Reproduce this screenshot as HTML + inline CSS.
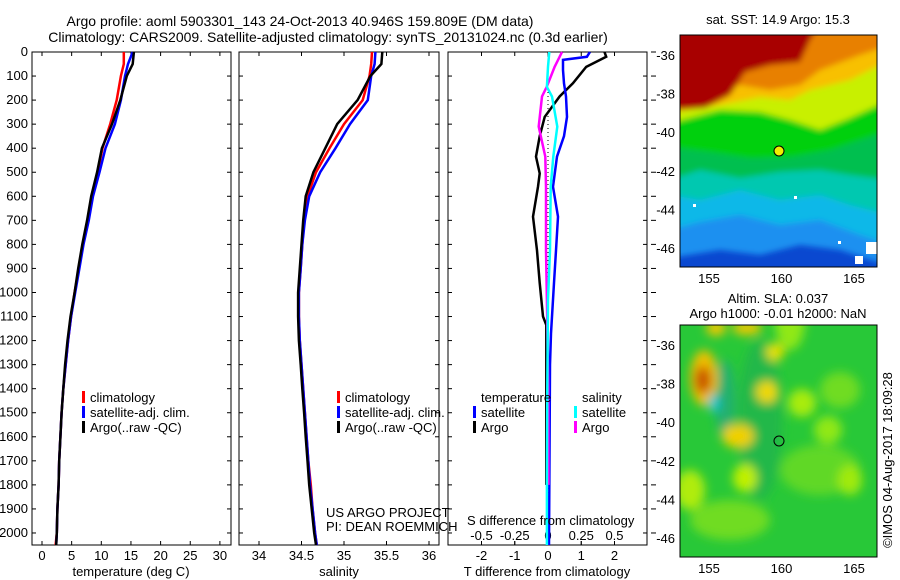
<!DOCTYPE html>
<html><head><meta charset="utf-8"><style>
body{margin:0;background:#fff;}
svg{display:block;font-family:"Liberation Sans",sans-serif;font-size:13px;}
</style></head><body>
<svg id="fig" width="900" height="580" viewBox="0 0 900 580" xmlns="http://www.w3.org/2000/svg">
<defs>
<filter id="bl" x="-10%" y="-10%" width="120%" height="120%"><feGaussianBlur stdDeviation="3"/></filter>
<filter id="bl2" x="-50%" y="-50%" width="200%" height="200%"><feGaussianBlur stdDeviation="5"/></filter>
<clipPath id="c1"><rect x="680" y="35" width="197" height="232"/></clipPath>
<clipPath id="c2"><rect x="680" y="325" width="197" height="232"/></clipPath>
</defs>
<g text-anchor="middle" font-size="14">
<text x="300" y="26">Argo profile: aoml 5903301_143 24-Oct-2013 40.946S 159.809E (DM data)</text>
<text x="328" y="42">Climatology: CARS2009. Satellite-adjusted climatology: synTS_20131024.nc (0.3d earlier)</text>
</g>
<g id="axes"></g>
<g id="series"></g>
<g>
<rect x="82" y="391" width="3" height="12" fill="#f00"/><text x="90" y="402">climatology</text>
<rect x="82" y="406" width="3" height="12" fill="#00f"/><text x="90" y="417">satellite-adj. clim.</text>
<rect x="82" y="421" width="3" height="12" fill="#000"/><text x="90" y="432">Argo(..raw -QC)</text>
</g>
<g>
<rect x="337" y="391" width="3" height="12" fill="#f00"/><text x="345" y="402">climatology</text>
<rect x="337" y="406" width="3" height="12" fill="#00f"/><text x="345" y="417">satellite-adj. clim.</text>
<rect x="337" y="421" width="3" height="12" fill="#000"/><text x="345" y="432">Argo(..raw -QC)</text>
</g>
<g>
<text x="481" y="402">temperature</text>
<text x="582" y="402">salinity</text>
<rect x="473" y="406" width="3" height="12" fill="#00f"/><text x="481" y="417">satellite</text>
<rect x="473" y="421" width="3" height="12" fill="#000"/><text x="481" y="432">Argo</text>
<rect x="574" y="406" width="3" height="12" fill="#0ff"/><text x="582" y="417">satellite</text>
<rect x="574" y="421" width="3" height="12" fill="#f0f"/><text x="582" y="432">Argo</text>
</g>
<text x="326" y="517">US ARGO PROJECT</text>
<text x="326" y="531">PI: DEAN ROEMMICH</text>
<text x="467" y="525">S difference from climatology</text>

<g clip-path="url(#c1)">
<rect x="680" y="35" width="197" height="232" fill="#0a48d0"/>
<g filter="url(#bl)">
<path d="M670,25 H890 V262 L877,262 L840,250 L800,245 L760,255 L720,250 L670,258 Z" fill="#1a90f0"/>
<path d="M670,25 H890 V245 L860,235 L820,220 L780,225 L740,215 L700,222 L670,230 Z" fill="#10b8e8"/>
<path d="M670,25 H890 V215 L850,205 L820,195 L780,200 L740,190 L700,200 L670,195 Z" fill="#00c8b0"/>
<path d="M670,25 H890 V180 L850,175 L820,170 L780,172 L740,178 L700,170 L670,180 Z" fill="#00bf50"/>
<path d="M670,25 H890 V130 L860,140 L830,150 L790,157 L750,158 L710,152 L670,147 Z" fill="#00d010"/>
<path d="M670,25 H890 V100 L850,118 L820,130 L790,120 L760,112 L720,110 L670,123 Z" fill="#c8f000"/>
<path d="M670,25 H890 V60 L850,80 L810,90 L790,100 L760,97 L720,105 L670,113 Z" fill="#f8c000"/>
<path d="M670,25 H890 V45 L860,55 L820,70 L800,85 L770,90 L740,85 L700,95 L670,95 Z" fill="#e88000"/>
<path d="M670,25 H820 L810,40 L800,62 L770,65 L745,72 L730,95 L705,108 L670,110 Z" fill="#a80000"/>
</g>
<rect x="866" y="242" width="11" height="12" fill="#fff"/>
<rect x="855" y="256" width="8" height="8" fill="#fff"/>
<rect x="693" y="204" width="3" height="3" fill="#fff"/>
<rect x="794" y="196" width="3" height="3" fill="#fff"/>
<rect x="838" y="241" width="3" height="3" fill="#fff"/>
</g>
<circle cx="779" cy="151" r="5" fill="#f0f000" stroke="#000"/>
<rect x="680" y="35" width="197" height="232" fill="none" stroke="#000"/>
<text x="778" y="24" text-anchor="middle">sat. SST: 14.9 Argo: 15.3</text>

<g clip-path="url(#c2)">
<rect x="680" y="325" width="197" height="232" fill="#28c838"/>
<g filter="url(#bl2)">
<ellipse cx="760" cy="420" rx="22" ry="80" fill="#20b848"/>
<ellipse cx="725" cy="400" rx="10" ry="40" fill="#20b070"/>
<ellipse cx="820" cy="470" rx="40" ry="25" fill="#60d828"/>
<ellipse cx="840" cy="390" rx="20" ry="18" fill="#70dc20"/>
<ellipse cx="730" cy="520" rx="40" ry="20" fill="#70dc20"/>
<ellipse cx="690" cy="490" rx="15" ry="20" fill="#b0ec10"/>
<ellipse cx="745" cy="478" rx="12" ry="14" fill="#c0f000"/>
<ellipse cx="828" cy="430" rx="14" ry="14" fill="#90e818"/>
<ellipse cx="802" cy="403" rx="14" ry="14" fill="#a8ec10"/>
<ellipse cx="790" cy="320" rx="15" ry="30" fill="#90e818"/>
<ellipse cx="850" cy="480" rx="12" ry="15" fill="#a0ea10"/>
<ellipse cx="704" cy="378" rx="14" ry="28" fill="#f0c000"/>
<ellipse cx="703" cy="380" rx="8" ry="14" fill="#c85000"/>
<ellipse cx="714" cy="403" rx="5" ry="9" fill="#10c8d8"/>
<ellipse cx="738" cy="436" rx="16" ry="12" fill="#f0d000"/>
<ellipse cx="767" cy="392" rx="11" ry="11" fill="#f0d800"/>
<ellipse cx="775" cy="352" rx="9" ry="9" fill="#e8e000"/>
<ellipse cx="716" cy="328" rx="10" ry="8" fill="#f0c800"/>
<ellipse cx="747" cy="328" rx="15" ry="7" fill="#f0c800"/>
</g>
</g>
<circle cx="779" cy="441" r="5" fill="none" stroke="#000"/>
<rect x="680" y="325" width="197" height="232" fill="none" stroke="#000"/>
<text x="778" y="303" text-anchor="middle">Altim. SLA: 0.037</text>
<text x="778" y="318" text-anchor="middle">Argo h1000: -0.01 h2000: NaN</text>
<text transform="translate(892,460) rotate(-90)" text-anchor="middle">©IMOS 04-Aug-2017 18:09:28</text>
</svg>
<script>
var depths = [0,50,100,200,300,400,500,600,700,800,900,1000,1100,1200,1300,1400,1500,1600,1700,1800,1900,2000,2050];
var tempArgo = [15.5,15.3,14.3,13.2,11.8,10.1,9.3,8.3,7.6,6.8,6.1,5.5,4.8,4.3,3.9,3.6,3.3,3.1,2.9,2.8,2.6,2.5,2.4];
var tempClim = [13.8,13.8,13.3,12.6,11.5,10.2,9.4,8.4,7.7,6.9,6.2,5.5,4.9,4.4,4.0,3.6,3.3,3.1,2.9,2.8,2.6,2.5,2.3];
var tempSat  = [15.3,14.5,14.0,13.3,12.3,10.7,9.7,8.6,7.9,7.0,6.3,5.6,4.9,4.4,4.0,3.6,3.3,3.1,2.9,2.8,2.6,2.5,2.4];
var salArgo = [35.45,35.44,35.31,35.16,34.92,34.78,34.64,34.55,34.52,34.50,34.48,34.46,34.46,34.47,34.49,34.51,34.53,34.55,34.57,34.59,34.62,34.65,34.67];
var salClim = [35.33,35.32,35.30,35.22,35.00,34.83,34.67,34.57,34.53,34.51,34.49,34.47,34.47,34.48,34.50,34.52,34.54,34.56,34.58,34.61,34.63,34.66,34.68];
var salSat  = [35.37,35.36,35.32,35.28,35.07,34.90,34.72,34.59,34.54,34.51,34.49,34.47,34.47,34.48,34.50,34.52,34.54,34.56,34.58,34.60,34.63,34.66,34.68];
var diffDepthsTArgo = [0,20,62,130,185,270,350,435,505,560,685,825,960,1100,1135,1400,1800];
var diffTArgo = [1.7,1.75,1.15,0.75,0.35,-0.1,-0.25,-0.36,-0.25,-0.3,-0.45,-0.33,-0.25,-0.15,-0.05,-0.05,-0.05];
var diffDepthsTSat = [0,20,33,75,130,185,270,350,435,560,685,825,960,1170,1300,2050];
var diffTSat = [1.26,1.17,0.45,0.45,0.48,0.54,0.57,0.48,0.27,0.15,0.3,0.24,0.18,0.09,0.06,0.03];
var diffDepthsS = [0,62,145,185,310,435,560,825,1030,1400,1800,2050];
var diffSArgo = [0.105,0.05,-0.01,-0.045,-0.07,-0.02,-0.015,-0.015,-0.008,0.002,0.004,null];
var diffSSat  = [0.01,0.0,-0.008,0.03,0.07,0.04,0.02,0.015,0.0,-0.005,-0.008,-0.008];
var depthTicks = [0,100,200,300,400,500,600,700,800,900,1000,1100,1200,1300,1400,1500,1600,1700,1800,1900,2000];
var tempTicks = [0,5,10,15,20,25,30];
var salTicks = [34,34.5,35,35.5,36];
var tdiffTicks = [-2,-1,0,1,2];
var sdiffTicks = [-0.5,-0.25,0,0.25,0.5];
var latTicks = [-36,-38,-40,-42,-44,-46];
var lonTicks = [155,160,165];

var TOP=52, BOT=545;
function py(p){return TOP + p*(BOT-TOP)/2050;}
function xT(t){return 42 + t*5.93;}
function xS(s){return 259 + (s-34)*85;}
function xDT(d){return 548 + d*33.25;}
function xDS(d){return 548 + d*133;}
function mapX(lon){return 680 + (lon-153)*14.5;}
function mapY1(lat){return 55 + (-36-lat)*19.3;}
function mapY2(lat){return 345 + (-36-lat)*19.3;}

var NS="http://www.w3.org/2000/svg";
function mk(tag, attrs, parent){var e=document.createElementNS(NS,tag);for(var k in attrs)e.setAttribute(k,attrs[k]);parent.appendChild(e);return e;}
var axes=document.getElementById('axes'), ser=document.getElementById('series');

var panels=[[32,231,'temperature-panel'],[239,439,'salinity-panel'],[448,647,'difference-panel']];
panels.forEach(function(p){
  var r=mk('rect',{x:p[0],y:TOP,width:p[1]-p[0],height:BOT-TOP,fill:'none',stroke:'#000','stroke-width':1},axes);
  
  
});
depthTicks.forEach(function(d){
  var y=py(d);
  var t=mk('text',{x:28,y:y+4,'text-anchor':'end'},axes); t.textContent=d;
  
  
  panels.forEach(function(p){
    mk('line',{x1:p[0],x2:p[0]+4,y1:y,y2:y,stroke:'#000'},axes);
    mk('line',{x1:p[1]-4,x2:p[1],y1:y,y2:y,stroke:'#000'},axes);
  });
  mk('line',{x1:651,x2:656,y1:y,y2:y,stroke:'#000'},axes);
});
function xticks(ticks,fx,labelY,name,top){
  ticks.forEach(function(v){
    var x=fx(v);
    mk('line',{x1:x,x2:x,y1:BOT,y2:BOT-4,stroke:'#000'},axes);
    if(top) mk('line',{x1:x,x2:x,y1:TOP,y2:TOP+4,stroke:'#000'},axes);
    var t=mk('text',{x:x,y:labelY,'text-anchor':'middle'},axes); t.textContent=v;
    
    
  });
}
xticks(tempTicks,xT,560,'temperature-tick-label',true);
xticks(salTicks,xS,560,'salinity-tick-label',true);
xticks(tdiffTicks,xDT,560,'t-diff-tick-label',true);
xticks(sdiffTicks,xDS,540,'s-diff-tick-label',false);
[['temperature (deg C)',131,'temperature-axis-title'],['salinity',339,'salinity-axis-title'],['T difference from climatology',547,'t-diff-axis-title']].forEach(function(a){
  var t=mk('text',{x:a[1],y:576,'text-anchor':'middle'},axes); t.textContent=a[0];
  
  
});
var zl=mk('line',{x1:xDT(0),x2:xDT(0),y1:py(0),y2:py(2050),stroke:'#000','stroke-dasharray':'1,3'},axes);



function line(xs,ds,fx,color,w,name){
  var pts=[];
  for(var i=0;i<xs.length;i++){ if(xs[i]===null) continue; pts.push(fx(xs[i]).toFixed(1)+','+py(ds[i]).toFixed(1)); }
  var l=mk('polyline',{points:pts.join(' '),fill:'none',stroke:color,'stroke-width':w},ser);
  
  
}
line(tempClim,depths,xT,'#f00',2.5,'temperature-climatology-line');
line(tempSat,depths,xT,'#00f',2.5,'temperature-satellite-line');
line(tempArgo,depths,xT,'#000',2.5,'temperature-argo-line');
line(salClim,depths,xS,'#f00',2.5,'salinity-climatology-line');
line(salSat,depths,xS,'#00f',2.5,'salinity-satellite-line');
line(salArgo,depths,xS,'#000',2.5,'salinity-argo-line');
line(diffTArgo,diffDepthsTArgo,xDT,'#000',2.5,'t-diff-argo-line');
line(diffTSat,diffDepthsTSat,xDT,'#00f',2.5,'t-diff-satellite-line');
line(diffSArgo,diffDepthsS,xDS,'#f0f',2.5,'s-diff-argo-line');
line(diffSSat,diffDepthsS,xDS,'#0ff',2.5,'s-diff-satellite-line');

[[mapY1,'sst'],[mapY2,'sla']].forEach(function(m){
  var fy=m[0];
  latTicks.forEach(function(lat){
    var y=fy(lat);
    mk('line',{x1:680,x2:685,y1:y,y2:y,stroke:'#000'},axes);
    mk('line',{x1:872,x2:877,y1:y,y2:y,stroke:'#000'},axes);
    var t=mk('text',{x:675,y:y+5,'text-anchor':'end'},axes); t.textContent=lat;
    
    
  });
  var by = m[1]==='sst'?267:557, ty = m[1]==='sst'?35:325;
  lonTicks.forEach(function(lon){
    var x=mapX(lon);
    mk('line',{x1:x,x2:x,y1:by,y2:by-5,stroke:'#000'},axes);
    mk('line',{x1:x,x2:x,y1:ty,y2:ty+5,stroke:'#000'},axes);
    var t=mk('text',{x:x,y:by+16,'text-anchor':'middle'},axes); t.textContent=lon;
    
    
  });
});
</script>
</body></html>
